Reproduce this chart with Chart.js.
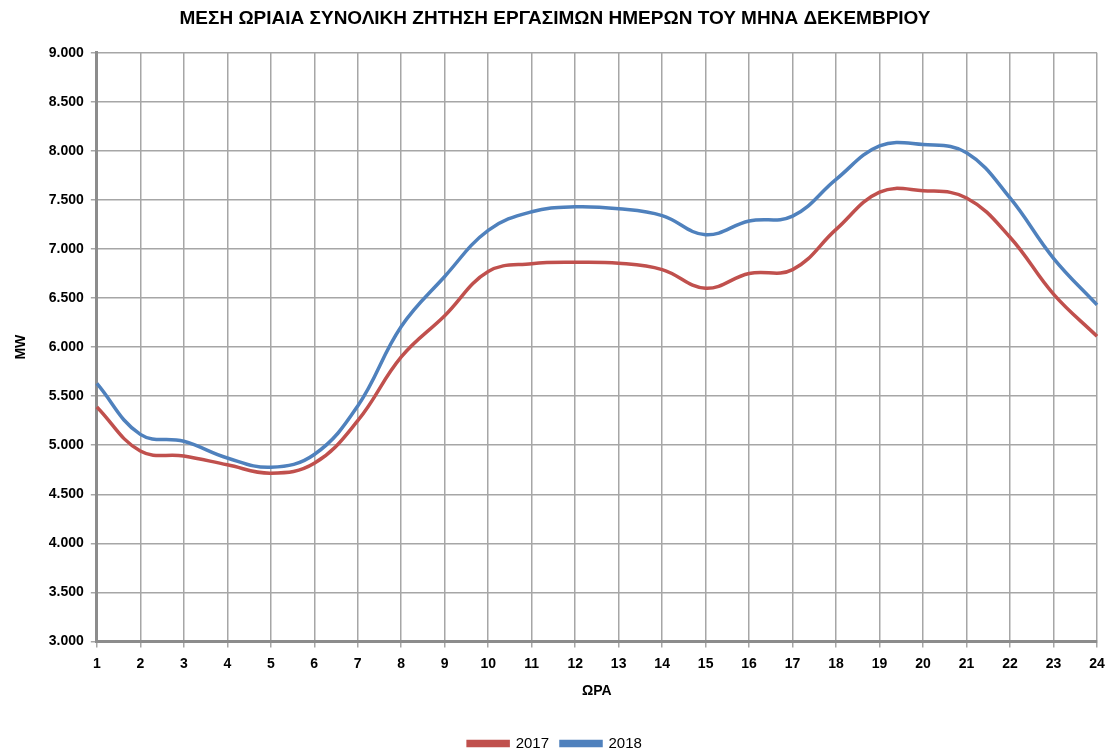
<!DOCTYPE html>
<html>
<head>
<meta charset="utf-8">
<script src="https://cdn.jsdelivr.net/npm/chart.js@4"></script>
<style>
    html, body { margin: 0; padding: 0; background: #fff; }
    #wrap { width: 1110px; height: 754px; position: relative; }
</style>
</head>
<body>
<div id="wrap"><canvas id="demandChart"></canvas></div>
<script>
// hours of the day
const hours = ['1','2','3','4','5','6','7','8','9','10','11','12','13','14','15','16','17','18','19','20','21','22','23','24'];

// average hourly demand, MW
const demand2017 = [5390, 4940, 4890, 4800, 4715, 4815, 5250, 5900, 6320, 6770, 6850, 6865, 6855, 6790, 6600, 6750, 6790, 7200, 7580, 7595, 7520, 7120, 6540, 6110];
const demand2018 = [5630, 5110, 5040, 4870, 4775, 4905, 5400, 6210, 6720, 7190, 7380, 7430, 7410, 7340, 7145, 7285, 7335, 7710, 8050, 8065, 7980, 7520, 6905, 6430];

const yTicks = { min: 3000, max: 9000, step: 500 };

const seriesLabels = ['2017', '2018'];
const colors = ['#C0504D', '#4F81BD'];

const fontFamily = "'Liberation Sans', 'DejaVu Sans', sans-serif";

const ctx = document.getElementById('demandChart').getContext('2d');
new Chart(ctx, {
    type: 'line',
    data: {
        labels: hours,
        datasets: [
            {
                label: seriesLabels[0],
                data: demand2017,
                borderColor: colors[0],
                backgroundColor: colors[0],
                borderWidth: 3.5,
                pointRadius: 0,
                tension: 0.4,
            },
            {
                label: seriesLabels[1],
                data: demand2018,
                borderColor: colors[1],
                backgroundColor: colors[1],
                borderWidth: 3.5,
                pointRadius: 0,
                tension: 0.4,
            },
        ],
    },
    options: {
        responsive: true,
        maintainAspectRatio: false,
        animation: false,
        layout: {
            padding: { left: 13, right: 13, top: 2, bottom: -7 },
        },
        plugins: {
            title: {
                display: true,
                text: 'ΜΕΣΗ ΩΡΙΑΙΑ ΣΥΝΟΛΙΚΗ ΖΗΤΗΣΗ ΕΡΓΑΣΙΜΩΝ ΗΜΕΡΩΝ ΤΟΥ ΜΗΝΑ ΔΕΚΕΜΒΡΙΟΥ',
                color: '#000',
                font: { family: fontFamily, size: 19, weight: 'bold' },
                padding: { top: 5, bottom: 23 },
            },
            legend: {
                position: 'bottom',
                labels: {
                    color: '#000',
                    boxWidth: 40,
                    boxHeight: 4,
                    padding: 12,
                    font: { family: fontFamily, size: 15 },
                },
            },
            tooltip: { enabled: false },
        },
        scales: {
            x: {
                offset: false,
                afterFit: (scale) => { scale.paddingRight = 0; },
                grid: {
                    color: '#A6A6A6',
                    lineWidth: 1.5,
                    tickLength: 6,
                },
                border: { color: '#8C8C8C', width: 3 },
                ticks: {
                    color: '#000',
                    autoSkip: false,
                    maxRotation: 0,
                    padding: 8,
                    font: { family: fontFamily, size: 14, weight: 'bold' },
                },
                title: {
                    display: true,
                    text: 'ΩΡΑ',
                    color: '#000',
                    font: { family: fontFamily, size: 14, weight: 'bold' },
                    padding: { top: 3, bottom: 24 },
                },
            },
            y: {
                min: yTicks.min,
                max: yTicks.max,
                grid: {
                    color: '#A6A6A6',
                    lineWidth: 1.5,
                    tickLength: 6,
                },
                border: { color: '#8C8C8C', width: 3 },
                ticks: {
                    stepSize: yTicks.step,
                    color: '#000',
                    padding: 7,
                    font: { family: fontFamily, size: 14, weight: 'bold' },
                    callback: (v) => (v / 1000).toFixed(3),
                },
                title: {
                    display: true,
                    text: 'MW',
                    color: '#000',
                    font: { family: fontFamily, size: 14, weight: 'bold' },
                    padding: { top: 0, bottom: 12 },
                },
            },
        },
    },
});
</script>
</body>
</html>
